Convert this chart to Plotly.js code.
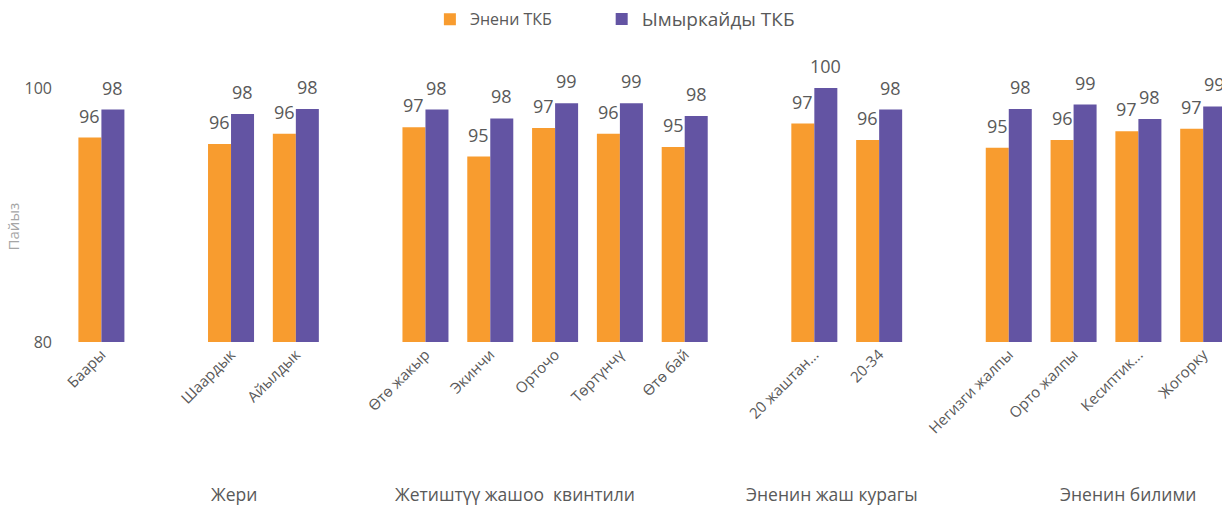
<!DOCTYPE html>
<html>
<head>
<meta charset="utf-8">
<script src="https://cdn.plot.ly/plotly-3.0.1.min.js"></script>
<style>
html,body{margin:0;padding:0;overflow:hidden;background:#fff;}
#chart{width:1222px;height:506px;}
</style>
</head>
<body>
<div id="chart"></div>
<script>
// Categories (blank strings are spacer slots between groups)
var categories = ["Баары", " ", "Шаардык", "Айылдык", "  ", "Өтө жакыр", "Экинчи", "Орточо", "Төртүнчү", "Өтө бай", "   ", "20 жаштан...", "20-34", "    ", "Негизги жалпы", "Орто жалпы", "Кесиптик...", "Жогорку"];
var motherValues = [96.1, null, 95.6, 96.4, null, 96.9, 94.6, 96.85, 96.4, 95.35, null, 97.2, 95.9, null, 95.3, 95.9, 96.6, 96.8];
var babyValues   = [98.3, null, 97.95, 98.35, null, 98.3, 97.6, 98.8, 98.8, 97.8, null, 100.0, 98.3, null, 98.35, 98.7, 97.55, 98.55];
var seriesNames = ["Энени ТКБ", "Ымыркайды ТКБ"];
var groupLabels = ["Жери", "Жетиштүү жашоо  квинтили", "Эненин жаш курагы", "Эненин билими"];
var groupPositions = [2.05, 6.38, 11.27, 15.84];
var yTitle = "Пайыз";

var orange = "#F89C2F";
var purple = "#6354A3";
var grey = "#595959";

var traces = [
  {type: "bar", name: seriesNames[0], x: categories, y: motherValues, marker: {color: orange}, hoverinfo: "x+y", legend: "legend"},
  {type: "bar", name: seriesNames[1], x: categories, y: babyValues, marker: {color: purple}, hoverinfo: "x+y", legend: "legend2"}
];

var annotations = [];
var series = [motherValues, babyValues];
var shifts = [-11.5, 11.5];
for (var s = 0; s < series.length; s++) {
  for (var i = 0; i < categories.length; i++) {
    var v = series[s][i];
    if (v === null) continue;
    annotations.push({
      x: categories[i], y: v, xref: "x", yref: "y",
      text: String(Math.round(v)),
      showarrow: false, xanchor: "center", yanchor: "bottom",
      xshift: shifts[s], yshift: 8,
      font: {family: "Open Sans", size: 18, color: grey}
    });
  }
}
for (var g = 0; g < groupLabels.length; g++) {
  annotations.push({
    x: groupPositions[g], y: -0.60, xref: "x", yref: "paper",
    text: groupLabels[g], showarrow: false, xanchor: "center", yanchor: "middle",
    font: {family: "Open Sans", size: 17.5, color: grey}
  });
}
annotations.push({
  x: -0.0486, y: 0.455, xref: "paper", yref: "paper", text: yTitle, textangle: -90,
  showarrow: false, xanchor: "center", yanchor: "middle",
  font: {family: "Open Sans", size: 15, color: "#A6A6A6"}
});

var layout = {
  width: 1222, height: 506,
  margin: {l: 69, r: 0, t: 88, b: 164, autoexpand: false},
  paper_bgcolor: "#fff", plot_bgcolor: "#fff",
  barmode: "group", bargap: 0.29, bargroupgap: 0,
  showlegend: true,
  legend: {orientation: "h", x: 0.313, xanchor: "left", xref: "paper", y: 0.962, yref: "container", yanchor: "middle",
           font: {family: "Open Sans", size: 16, color: grey}, itemwidth: 30},
  legend2: {orientation: "h", x: 0.462, xanchor: "left", xref: "paper", y: 0.962, yref: "container", yanchor: "middle",
           font: {family: "Open Sans", size: 19, color: grey}, itemwidth: 30},
  xaxis: {type: "category", categoryorder: "array", categoryarray: categories, automargin: false,
          range: [-0.5, 17.29], tickangle: -45, showgrid: false, showline: false, zeroline: false,
          ticks: "", tickfont: {family: "Open Sans", size: 15, color: grey}, fixedrange: true},
  yaxis: {range: [80, 100], dtick: 20, tick0: 80, showgrid: true, gridcolor: "#D9D9D9", gridwidth: 1,
          zeroline: false, showline: false, ticks: "", ticklabelstandoff: 16, automargin: false,
          tickfont: {family: "Open Sans", size: 16, color: grey}, fixedrange: true},
  annotations: annotations,
  font: {family: "Open Sans", color: grey}
};

Plotly.newPlot("chart", traces, layout, {displayModeBar: false, staticPlot: true});
</script>
</body>
</html>
